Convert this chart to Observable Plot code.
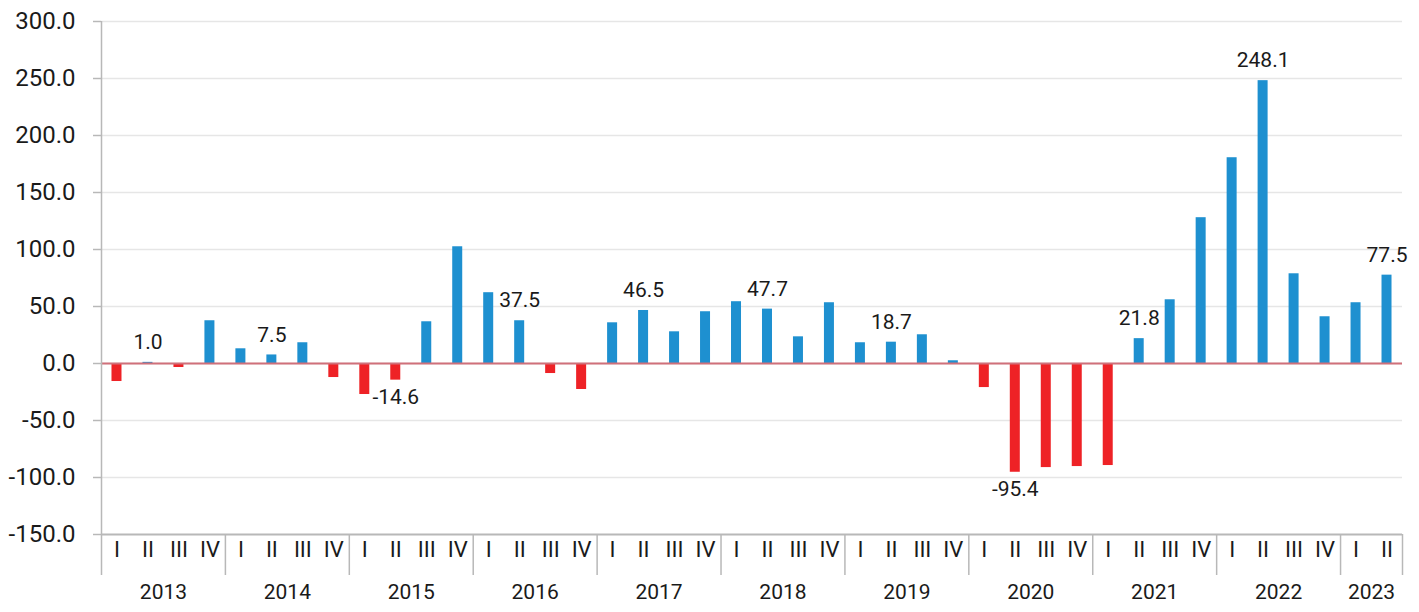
<!DOCTYPE html>
<html>
<head>
<meta charset="utf-8">
<script src="https://cdn.jsdelivr.net/npm/d3@7"></script>
<script src="https://cdn.jsdelivr.net/npm/@observablehq/plot@0.6"></script>
<style>
  html, body { margin: 0; padding: 0; background: #fff; }
  #chart svg { display: block; }
</style>
</head>
<body>
<div id="chart"></div>
<script>
// ---- data ----
const years = [2013, 2014, 2015, 2016, 2017, 2018, 2019, 2020, 2021, 2022, 2023];
const quarterNames = ["I", "II", "III", "IV"];
const values = [
  -15.8, 1.0, -3.5, 37.5,      // 2013
  12.9, 7.5, 18.2, -12.3,      // 2014
  -27.2, -14.6, 36.6, 102.4,   // 2015
  62.1, 37.5, -8.8, -22.8,     // 2016
  35.7, 46.5, 27.8, 45.4,      // 2017
  54.2, 47.7, 23.4, 53.3,      // 2018
  18.2, 18.7, 25.2, 2.4,       // 2019
  -21.1, -95.4, -91.3, -90.4,  // 2020
  -89.5, 21.8, 55.9, 127.9,    // 2021
  180.5, 248.1, 78.7, 41.0,    // 2022
  53.3, 77.5                   // 2023
];
const labeledQuarter = "II";
const yTicks = [-150, -100, -50, 0, 50, 100, 150, 200, 250, 300];

// ---- derived table ----
const data = values.map((v, i) => {
  const year = years[Math.floor(i / 4)];
  const q = quarterNames[i % 4];
  return { key: `${year}-${q}`, year, q, v };
});
const keys = data.map(d => d.key);
const yearCenters = years.map(y => {
  const qs = data.filter(d => d.year === y);
  return { year: y, key: qs[Math.floor(qs.length / 2) - 1].key };
});
const yearStarts = years.map(y => `${y}-I`);
const lastKey = keys[keys.length - 1];

const W = 1419, H = 612;
const mL = 101, mR = 17, mT = 21, mB = 78;
const band = (W - mL - mR) / keys.length;
const half = band / 2;
const frameH = H - mT - mB;

const blue = "#1e90d0", red = "#ee2226";
const gray = "#b8b8b8", grid = "#e6e6e6", ink = "#1a1a1a";

const labeled = data.filter(d => d.q === labeledQuarter);

const chart = Plot.plot({
  width: W,
  height: H,
  marginLeft: mL,
  marginRight: mR,
  marginTop: mT,
  marginBottom: mB,
  style: { fontFamily: "Roboto, 'Noto Sans', sans-serif", fontSize: "21px", color: ink, background: "#fff" },
  x: { type: "band", domain: keys, padding: 0, round: false, axis: null },
  y: { domain: [-150, 300], axis: null },
  marks: [
    Plot.ruleY(yTicks.filter(d => d > -150), { stroke: grid, strokeWidth: 1.5 }),
    Plot.barY(data, {
      x: "key", y: "v",
      fill: d => d.v < 0 ? red : blue,
      insetLeft: (band - 10) / 2, insetRight: (band - 10) / 2
    }),
    Plot.ruleY([0], { stroke: "#d0707a", strokeWidth: 2 }),
    Plot.ruleY([-150], { stroke: gray, strokeWidth: 2 }),
    // y ticks and tick labels
    Plot.tickY(yTicks, { y: d => d, frameAnchor: "left", stroke: gray, strokeWidth: 1.5, insetLeft: -8, insetRight: W - mL - mR }),
    Plot.text(yTicks, { y: d => d, text: d => d.toFixed(1), frameAnchor: "left", dx: -26, textAnchor: "end", fill: ink, fontSize: 24 }),
    // left axis line (full height incl. category band)
    Plot.ruleX([keys[0]], { x: d => d, dx: -half, stroke: gray, strokeWidth: 1.5, insetBottom: -41 }),
    // year separators in the category band
    Plot.ruleX(yearStarts.slice(1), { x: d => d, dx: -half, stroke: gray, strokeWidth: 1.5, insetTop: frameH, insetBottom: -41 }),
    Plot.ruleX([lastKey], { x: d => d, dx: half, stroke: gray, strokeWidth: 1.5, insetTop: frameH, insetBottom: -41 }),
    // quarter labels
    Plot.text(data, { x: "key", text: "q", frameAnchor: "bottom", dy: 22, fill: ink, fontSize: 22 }),
    // year labels
    Plot.text(yearCenters, { x: "key", text: d => String(d.year), frameAnchor: "bottom", dx: half, dy: 64, fill: ink, fontSize: 21 }),
    // value labels
    Plot.text(labeled.filter(d => d.v >= 0), { x: "key", y: "v", text: d => d.v.toFixed(1), dy: -20, fill: ink, fontSize: 21 }),
    Plot.text(labeled.filter(d => d.v < 0), { x: "key", y: "v", text: d => d.v.toFixed(1), dy: 17, fill: ink, fontSize: 21 })
  ]
});
document.getElementById("chart").appendChild(chart);
</script>
</body>
</html>
